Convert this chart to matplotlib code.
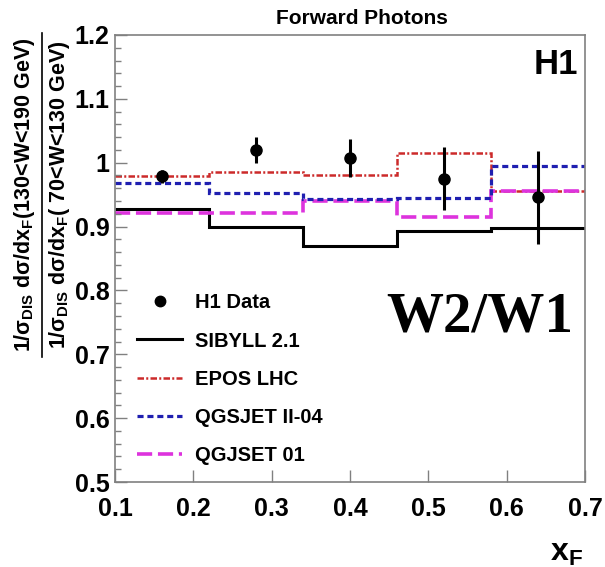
import matplotlib
matplotlib.use("Agg")
import matplotlib.pyplot as plt
from matplotlib.lines import Line2D
from matplotlib.ticker import MultipleLocator, FuncFormatter

# bin edges in x_F and model predictions (ratio W2/W1)
edges = [0.1, 0.22, 0.34, 0.46, 0.58, 0.7]
sibyll = [0.927, 0.900, 0.870, 0.893, 0.898]
epos = [0.979, 0.985, 0.981, 1.015, 0.956]
qgsjet2 = [0.968, 0.953, 0.943, 0.945, 0.995]
qgsjet01 = [0.922, 0.922, 0.940, 0.915, 0.956]

# H1 data points
h1_x = [0.16, 0.28, 0.40, 0.52, 0.64]
h1_y = [0.979, 1.020, 1.007, 0.975, 0.946]
h1_err = [0.010, 0.020, 0.030, 0.049, 0.073]

labels = ["H1 Data", "SIBYLL 2.1", "EPOS LHC", "QGSJET II-04", "QGJSET 01"]

plt.rcParams.update({
    "font.family": ["Liberation Sans", "DejaVu Sans"],
    "font.weight": "bold",
    "mathtext.fontset": "custom",
    "mathtext.rm": "Liberation Sans:bold",
    "mathtext.it": "Liberation Sans:bold",
    "mathtext.bf": "Liberation Sans:bold",
    "mathtext.default": "regular",
})

FRAME = "#808080"
STYLES = {
    "sibyll":   dict(color="black", lw=2.2, ls="-"),
    "epos":     dict(color="#cc2a2a", lw=1.8, ls=(0, (2.6, 0.9, 0.8, 0.9))),
    "qgsjet01": dict(color="#dd33dd", lw=2.6, ls=(0, (4.2, 1.6))),
    "qgsjet2":  dict(color="#1f1fb0", lw=2.3, ls=(0, (1.9, 1.2))),
}

fig = plt.figure(figsize=(6.05, 5.67), dpi=100)
ax = fig.add_axes([115 / 605, 1 - 482 / 567, 470 / 605, 447 / 567])

ax.stairs(sibyll, edges, baseline=None, **STYLES["sibyll"])
ax.stairs(epos, edges, baseline=None, **STYLES["epos"])
ax.stairs(qgsjet01, edges, baseline=None, **STYLES["qgsjet01"])
ax.stairs(qgsjet2, edges, baseline=None, **STYLES["qgsjet2"])
ax.errorbar(h1_x, h1_y, yerr=h1_err, fmt="o", color="black", ms=8,
            elinewidth=2.2, capsize=0, zorder=5)

ax.set_xlim(0.1, 0.7)
ax.set_ylim(0.5, 1.2)
ax.xaxis.set_major_locator(MultipleLocator(0.1))
ax.yaxis.set_major_locator(MultipleLocator(0.1))
ax.yaxis.set_minor_locator(MultipleLocator(0.02))
fmt = FuncFormatter(lambda v, p: "1" if abs(v - 1) < 1e-9 else f"{v:.1f}")
ax.xaxis.set_major_formatter(fmt)
ax.yaxis.set_major_formatter(fmt)

for sp in ax.spines.values():
    sp.set_color(FRAME)
    sp.set_linewidth(1.2)
ax.tick_params(axis="both", which="both", direction="in", color=FRAME,
               top=False, right=False, labelsize=18)
ax.tick_params(axis="y", which="major", length=8.5, width=1.0, pad=4)
ax.tick_params(axis="y", which="minor", length=4.5, width=1.0)
ax.tick_params(axis="x", which="major", length=8.5, width=1.0, pad=11)

# legend
handles = [
    Line2D([], [], color="black", marker="o", ms=7.5, ls="none"),
    Line2D([], [], **STYLES["sibyll"]),
    Line2D([], [], **STYLES["epos"]),
    Line2D([], [], **STYLES["qgsjet2"]),
    Line2D([], [], **STYLES["qgsjet01"]),
]
ax.legend(handles, labels, loc="upper left", bbox_to_anchor=(0.03, 0.44),
          frameon=False, fontsize=14.5, handlelength=2.25, handletextpad=0.6,
          labelspacing=0.95, borderaxespad=0)

ax.text(0.985, 0.97, "H1", transform=ax.transAxes, ha="right", va="top",
        fontsize=25, fontweight="bold")
ax.text(0.976, 0.336, "W2/W1", transform=ax.transAxes, ha="right", va="baseline",
        fontsize=41, fontweight="bold", family="Liberation Serif")

fig.text(362 / 605, 1 - 18 / 567, "Forward Photons", ha="center", va="center",
         fontsize=15, fontweight="bold")
fig.text(566 / 605, 1 - 553 / 567, r"x$_F$", ha="center", va="center",
         fontsize=23, fontweight="bold")

# y-axis label drawn as a fraction
fig.text(25 / 605, 1 - 195 / 567, r"1/σ$_{DIS}$ dσ/dx$_F$(130<W<190 GeV)",
         rotation=90, ha="center", va="center", fontsize=15.5, fontweight="bold")
fig.text(60 / 605, 1 - 195 / 567, r"1/σ$_{DIS}$ dσ/dx$_F$( 70<W<130 GeV)",
         rotation=90, ha="center", va="center", fontsize=15.5, fontweight="bold")
fig.add_artist(Line2D([42 / 605, 42 / 605], [1 - 33 / 567, 1 - 357 / 567],
                      color="black", lw=1.2, transform=fig.transFigure))

fig.savefig("out.png", dpi=100)
